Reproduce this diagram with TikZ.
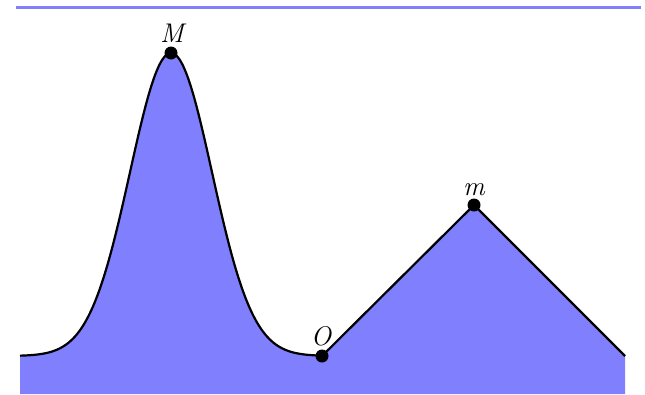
\documentclass[tikz,border=0pt]{standalone}
\begin{document}
\begin{tikzpicture}[x=1pt,y=-1pt,
  edge/.style={draw=black, line width=2.2pt},
  dot/.style={circle, fill=black, inner sep=0pt, minimum size=13pt},
  lab/.style={font=\fontsize{27}{32}\selectfont\itshape, inner sep=0pt}]
\useasboundingbox (0,0) rectangle (645,394);
\draw[blue!50!white, line width=3pt] (16,7) -- (641,7);
\fill[blue!50!white] (20,394) -- plot[domain=20:322, samples=200] (\x, {356-303*exp(-0.5*((\x-171)/41)^2)}) -- (474,205) -- (625,356) -- (625,394) -- cycle;
\draw[edge] plot[domain=20:322, samples=200] (\x, {356-303*exp(-0.5*((\x-171)/41)^2)});
\node[dot] (O) at (322,356) {};
\node[dot] (m) at (474,205) {};
\node[dot] (M) at (171,53) {};
\coordinate (R) at (625,356);
\draw[edge] (O.center) -- (m.center) -- (R);
\node[lab, anchor=base] (lM) at (172,42) {M};
\node[lab, anchor=base] (lm) at (474,195) {m};
\node[lab, anchor=base] (lO) at (321,345) {O};
\end{tikzpicture}
\end{document}
